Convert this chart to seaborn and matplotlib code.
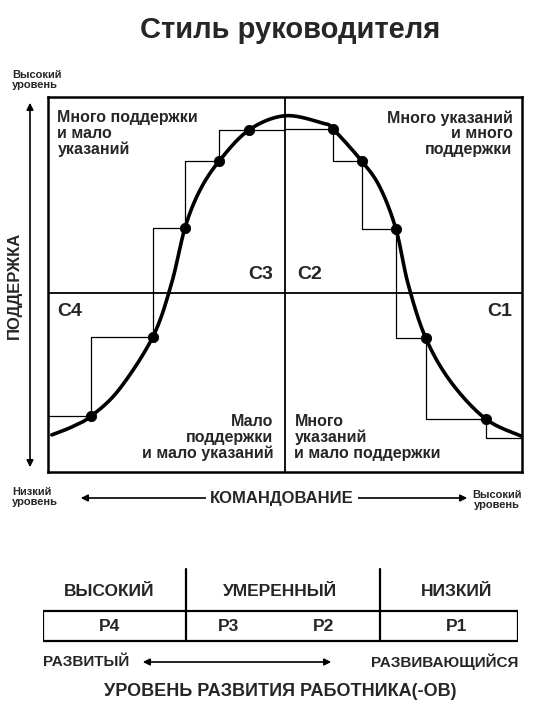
import numpy as np
import pandas as pd
import seaborn as sns
import matplotlib.pyplot as plt

# directing (x, 0..10) vs support (y, 0..10)
curve_x = [0.08, 0.5, 0.91, 1.5, 2.21, 2.6, 2.89, 3.2, 3.61, 4.24, 5.0, 5.8, 6.01, 6.62, 7.0, 7.34, 7.6, 7.97, 8.5, 9.24, 10.0]
curve_y = [0.99, 1.2, 1.49, 2.2, 3.6, 5.0, 6.51, 7.5, 8.29, 9.12, 9.5, 9.3, 9.15, 8.29, 7.6, 6.48, 5.0, 3.57, 2.4, 1.41, 0.95]

dot_x = [0.91, 2.21, 2.89, 3.61, 4.24, 6.01, 6.62, 7.34, 7.97, 9.24]
dot_y = [1.49, 3.6, 6.51, 8.29, 9.12, 9.15, 8.29, 6.48, 3.57, 1.41]

step_left_x = [0.0, 0.91, 2.21, 2.89, 3.61, 4.24, 5.0]
step_left_y = [1.49, 3.6, 6.51, 8.29, 9.12, 9.12, 9.12]
step_right_x = [5.0, 6.01, 6.62, 7.34, 7.97, 9.24, 10.0]
step_right_y = [9.15, 8.29, 6.48, 3.57, 1.41, 0.9, 0.9]

mid_x, mid_y = 5.0, 4.77

quadrants = ["Много поддержки\nи мало\nуказаний", "Много указаний\nи много\nподдержки",
             "Мало\nподдержки\nи мало указаний", "Много\nуказаний\nи мало поддержки"]
styles = ["С3", "С2", "С4", "С1"]
levels = ["ВЫСОКИЙ", "УМЕРЕННЫЙ", "НИЗКИЙ"]
stages = ["Р4", "Р3", "Р2", "Р1"]


def smooth(xs, ys, n=20):
    # catmull-rom through the read points, just for a smooth stroke
    p = np.column_stack([xs, ys])
    p = np.vstack([p[0], p, p[-1]])
    out = []
    for i in range(1, len(p) - 2):
        p0, p1, p2, p3 = p[i - 1], p[i], p[i + 1], p[i + 2]
        for t in np.linspace(0, 1, n, endpoint=False):
            out.append(0.5 * ((2 * p1) + (-p0 + p2) * t + (2 * p0 - 5 * p1 + 4 * p2 - p3) * t ** 2
                              + (-p0 + 3 * p1 - 3 * p2 + p3) * t ** 3))
    out.append(p[-2])
    out = np.array(out)
    return pd.DataFrame({"x": out[:, 0], "y": out[:, 1]})


sns.set_style("white")
plt.rcParams['font.family'] = ['Liberation Sans', 'DejaVu Sans']
plt.rcParams['font.weight'] = 'bold'

W, H = 541, 722
fig = plt.figure(figsize=(W / 100, H / 100), dpi=100)


def fx(px):
    return px / W


def fy(py):
    return 1 - py / H


ax = fig.add_axes([fx(48), fy(472), 474 / W, 375 / H])
ax.set_xlim(0, 10)
ax.set_ylim(0, 10)
ax.set_xticks([])
ax.set_yticks([])
for s in ax.spines.values():
    s.set_linewidth(1.8)
    s.set_color("black")

ax.axvline(mid_x, color="black", lw=1.3)
ax.axhline(mid_y, color="black", lw=1.3)
ax.plot(step_left_x, step_left_y, drawstyle="steps-post", color="black", lw=0.9)
ax.plot(step_right_x, step_right_y, drawstyle="steps-post", color="black", lw=0.9)
sns.lineplot(data=smooth(curve_x, curve_y), x="x", y="y", sort=False, color="black", lw=2.6, ax=ax)
sns.scatterplot(x=dot_x, y=dot_y, color="black", s=55, edgecolor="black", zorder=5, ax=ax)
ax.set_xlabel("")
ax.set_ylabel("")

qfs = 11.5
ax.text(0.2, 9.65, quadrants[0], ha="left", va="top", fontsize=qfs, linespacing=1.05)
ax.text(9.8, 9.65, quadrants[1], ha="right", va="top", fontsize=qfs, linespacing=1.05)
ax.text(4.75, 0.3, quadrants[2], ha="right", va="bottom", fontsize=qfs, linespacing=1.05)
ax.text(5.2, 0.3, quadrants[3], ha="left", va="bottom", fontsize=qfs, linespacing=1.05)
cfs = 14
ax.text(4.75, 5.05, styles[0], ha="right", va="bottom", fontsize=cfs, weight="heavy")
ax.text(5.25, 5.05, styles[1], ha="left", va="bottom", fontsize=cfs, weight="heavy")
ax.text(0.2, 4.5, styles[2], ha="left", va="top", fontsize=cfs, weight="heavy")
ax.text(9.8, 4.5, styles[3], ha="right", va="top", fontsize=cfs, weight="heavy")

fig.text(fx(290), fy(30), "Стиль руководителя", ha="center", va="center", fontsize=21, weight="heavy")

arrow = dict(arrowstyle="<|-|>", color="black", lw=1.2, mutation_scale=10)
fig.text(fx(12), fy(80), "Высокий\nуровень", ha="left", va="center", fontsize=8, linespacing=1.0)
fig.text(fx(12), fy(497), "Низкий\nуровень", ha="left", va="center", fontsize=8, linespacing=1.0)
fig.text(fx(497), fy(500), "Высокий\nуровень", ha="center", va="center", fontsize=8, linespacing=1.0)
fig.add_artist(plt.Annotation("", xy=(fx(30), fy(100)), xytext=(fx(30), fy(470)),
                              xycoords="figure fraction", arrowprops=arrow))
fig.text(fx(14), fy(285), "ПОДДЕРЖКА", rotation=90, ha="center", va="center", fontsize=12)
fig.add_artist(plt.Annotation("", xy=(fx(470), fy(498)), xytext=(fx(78), fy(498)),
                              xycoords="figure fraction", arrowprops=arrow))
fig.text(fx(282), fy(498), "КОМАНДОВАНИЕ", ha="center", va="center", fontsize=12,
         bbox=dict(facecolor="white", edgecolor="none", pad=3))

# development level table
bx = fig.add_axes([fx(43), fy(645), 475 / W, 85 / H])
bx.set_xlim(0, 1)
bx.set_ylim(0, 1)
bx.axis("off")
bx.plot([0, 1, 1, 0, 0], [0.05, 0.05, 0.4, 0.4, 0.05], color="black", lw=1.6)
for sx in [0.3, 0.71]:
    bx.plot([sx, sx], [0.05, 0.9], color="black", lw=1.6)
for t, cx in zip(levels, [0.14, 0.5, 0.87]):
    bx.text(cx, 0.63, t, ha="center", va="center", fontsize=12.5)
for t, cx in zip(stages, [0.14, 0.39, 0.59, 0.87]):
    bx.text(cx, 0.22, t, ha="center", va="center", fontsize=12.5, weight="heavy")

fig.text(fx(43), fy(662), "РАЗВИТЫЙ", ha="left", va="center", fontsize=11)
fig.text(fx(518), fy(662), "РАЗВИВАЮЩИЙСЯ", ha="right", va="center", fontsize=11)
fig.add_artist(plt.Annotation("", xy=(fx(334), fy(662)), xytext=(fx(140), fy(662)),
                              xycoords="figure fraction", arrowprops=arrow))
fig.text(fx(280), fy(692), "УРОВЕНЬ РАЗВИТИЯ РАБОТНИКА(-ОВ)", ha="center", va="center", fontsize=13)

fig.savefig("out.png", dpi=100)
